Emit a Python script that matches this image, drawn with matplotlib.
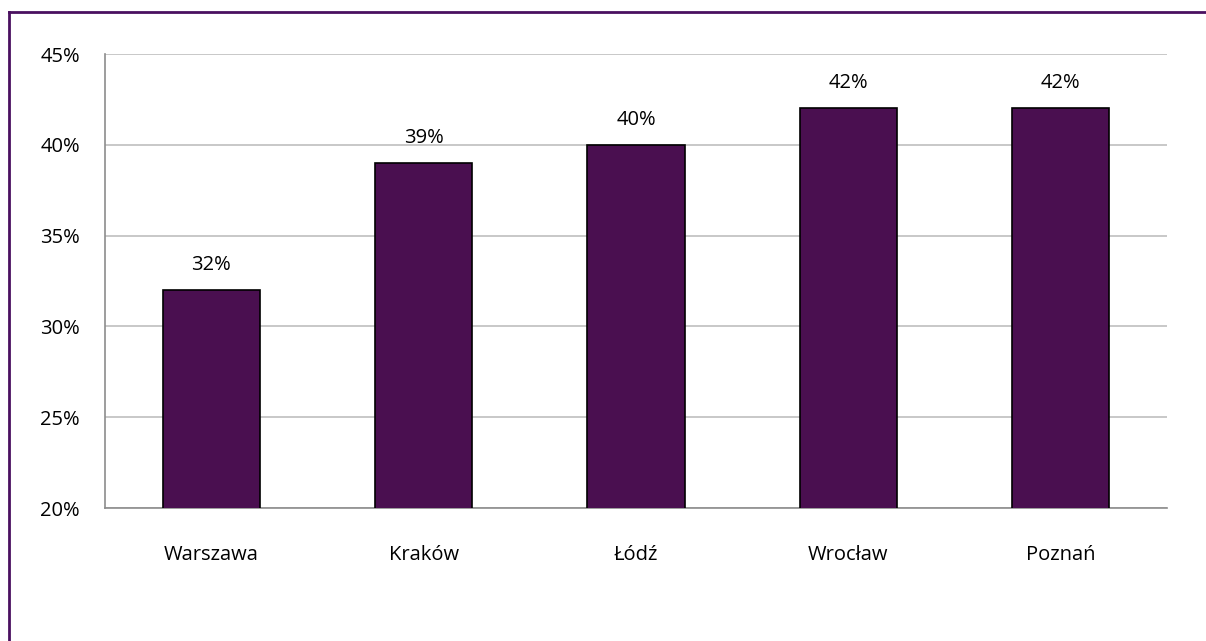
import matplotlib
matplotlib.use("Agg")
import matplotlib.pyplot as plt
from matplotlib.lines import Line2D
from matplotlib.ticker import FuncFormatter

categories = ["Warszawa", "Kraków", "Łódź", "Wrocław", "Poznań"]
values = [32, 39, 40, 42, 42]
y_ticks = [20, 25, 30, 35, 40, 45]

plt.rcParams['font.family'] = ['Open Sans', 'DejaVu Sans']

W, H = 1206, 641
fig = plt.figure(figsize=(W/100, H/100), dpi=100)
ax = fig.add_axes([105/W, 1-508/H, (1167-105)/W, (508-54)/H])

x = list(range(len(categories)))
bars = ax.bar(x, values, width=0.457, bottom=0, color="#4A0F50",
              edgecolor="black", linewidth=1.2, zorder=3)
ax.set_xlim(-0.5, len(categories)-0.5)
ax.set_ylim(20, 45)
ax.set_yticks(y_ticks)
ax.yaxis.set_major_formatter(FuncFormatter(lambda v, p: f"{v:.0f}%"))
ax.set_xticks(x)
ax.set_xticklabels(categories)
ax.grid(axis='y', color="#BFBFBF", linewidth=1.2, zorder=0)
ax.set_axisbelow(True)
for s in ["top", "right"]:
    ax.spines[s].set_visible(False)
for s in ["left", "bottom"]:
    ax.spines[s].set_color("#8C8C8C")
    ax.spines[s].set_linewidth(1.2)
ax.tick_params(axis='both', length=0, labelsize=14.5, colors="black")
ax.tick_params(axis='y', pad=18)
ax.tick_params(axis='x', pad=27)

for xi, v in zip(x, values):
    ax.annotate(f"{v}%", (xi, v), xytext=(0, 11), textcoords="offset points",
                ha="center", va="bottom", fontsize=14.5, color="black")

# outer purple frame (left and top visible)
fig.add_artist(Line2D([9/W, 9/W], [0, 1-12/H], transform=fig.transFigure,
                      color="#4A1060", linewidth=2))
fig.add_artist(Line2D([9/W, 1], [1-12/H, 1-12/H], transform=fig.transFigure,
                      color="#4A1060", linewidth=2))

fig.savefig("out.png", dpi=100)
